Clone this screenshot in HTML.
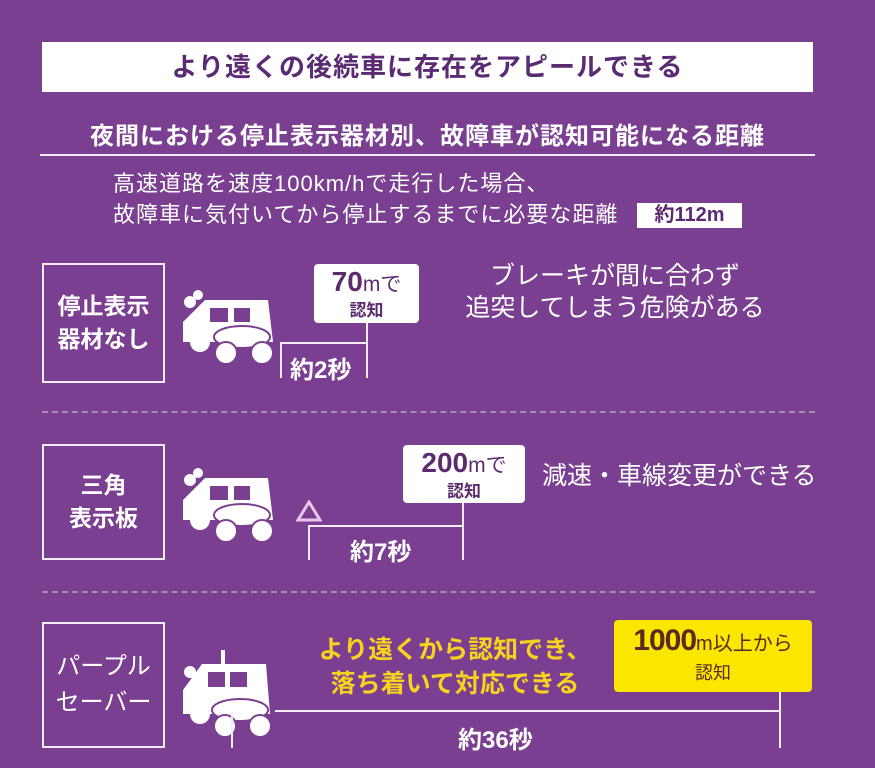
<!DOCTYPE html>
<html><head><meta charset="utf-8"><style>
body{margin:0;width:875px;height:768px;background:#7b3f92;overflow:hidden;position:relative;font-family:"Liberation Sans","Noto Sans CJK JP",sans-serif;color:#fff}
.a{position:absolute;white-space:nowrap}
.box{position:absolute;border:2px solid #f3ecf5;box-sizing:border-box;display:flex;align-items:center;justify-content:center;text-align:center;font-size:23px;line-height:33px;font-weight:bold}
.ln{position:absolute;background:#f3ecf5}
.lbl{position:absolute;background:#fff;border-radius:4px;color:#5b2b6e;text-align:center;font-weight:bold}
.dash{position:absolute;left:42px;width:773px;border-top:2px dashed #a98bb6}
</style></head><body>
<div class="a" style="left:42px;top:42px;width:771px;height:50px;background:#fff;color:#5a2a72;font-size:26px;letter-spacing:1px;font-weight:bold;text-align:center;line-height:50px">より遠くの後続車に存在をアピールできる</div>
<div class="a" style="left:40px;top:116px;width:775px;text-align:center;font-size:24px;letter-spacing:1px;font-weight:bold">夜間における停止表示器材別、故障車が認知可能になる距離</div>
<div class="ln" style="left:40px;top:154px;width:775px;height:2px"></div>
<div class="a" style="left:113px;top:168px;font-size:22px;line-height:31px;letter-spacing:1px">高速道路を速度100km/hで走行した場合、<br>故障車に気付いてから停止するまでに必要な距離</div>
<div class="a" style="left:637px;top:203px;width:105px;height:25px;background:#fff;color:#5a2a72;font-size:20px;font-weight:bold;text-align:center;line-height:25px">約112m</div>

<div class="box" style="left:42px;top:263px;width:123px;height:120px">停止表示<br>器材なし</div>
<svg class="a" style="left:180px;top:290px" width="100" height="78" viewBox="0 0 100 78"><circle cx="10" cy="12" r="6" fill="#fff"/><circle cx="18" cy="5" r="5" fill="#fff"/><path d="M3 32 L25 10 L88 10 L93 52 L3 52 Z" fill="#fff"/><rect x="30" y="18" width="18" height="14" fill="#7b3f92"/><rect x="54" y="18" width="16" height="14" fill="#7b3f92"/><circle cx="20" cy="52" r="10" fill="#fff"/><ellipse cx="62" cy="47" rx="28" ry="11" fill="#fff" stroke="#7b3f92" stroke-width="2"/><circle cx="46" cy="63" r="11" fill="#fff" stroke="#7b3f92" stroke-width="2"/><circle cx="82" cy="63" r="11" fill="#fff" stroke="#7b3f92" stroke-width="2"/></svg>
<div class="lbl" style="left:314px;top:264px;width:105px;height:59px"><div style="font-size:28px;line-height:30px;margin-top:3px">70<span style="font-size:21px;font-weight:normal">mで</span></div><div style="font-size:17px;line-height:22px">認知</div></div>
<div class="ln" style="left:366px;top:323px;width:2px;height:55px"></div>
<div class="ln" style="left:280px;top:342px;width:87px;height:2px"></div>
<div class="ln" style="left:280px;top:342px;width:2px;height:36px"></div>
<div class="a" style="left:290px;top:350px;font-size:24px;font-weight:bold">約2秒</div>
<div class="a" style="left:455px;top:260px;width:320px;text-align:center;font-size:25px;line-height:32px">ブレーキが間に合わず<br>追突してしまう危険がある</div>
<div class="dash" style="top:411px"></div>

<div class="box" style="left:42px;top:444px;width:123px;height:116px">三角<br>表示板</div>
<svg class="a" style="left:180px;top:468px" width="100" height="78" viewBox="0 0 100 78"><circle cx="10" cy="12" r="6" fill="#fff"/><circle cx="18" cy="5" r="5" fill="#fff"/><path d="M3 32 L25 10 L88 10 L93 52 L3 52 Z" fill="#fff"/><rect x="30" y="18" width="18" height="14" fill="#7b3f92"/><rect x="54" y="18" width="16" height="14" fill="#7b3f92"/><circle cx="20" cy="52" r="10" fill="#fff"/><ellipse cx="62" cy="47" rx="28" ry="11" fill="#fff" stroke="#7b3f92" stroke-width="2"/><circle cx="46" cy="63" r="11" fill="#fff" stroke="#7b3f92" stroke-width="2"/><circle cx="82" cy="63" r="11" fill="#fff" stroke="#7b3f92" stroke-width="2"/></svg>
<svg class="a" style="left:296px;top:500px" width="26" height="22"><polygon points="13,2 24,20 2,20" fill="none" stroke="#e8c8e8" stroke-width="3"/></svg>
<div class="lbl" style="left:403px;top:445px;width:122px;height:58px"><div style="font-size:28px;line-height:30px;margin-top:3px">200<span style="font-size:21px;font-weight:normal">mで</span></div><div style="font-size:17px;line-height:22px">認知</div></div>
<div class="ln" style="left:462px;top:503px;width:2px;height:57px"></div>
<div class="ln" style="left:308px;top:525px;width:156px;height:2px"></div>
<div class="ln" style="left:308px;top:525px;width:2px;height:35px"></div>
<div class="a" style="left:350px;top:532px;font-size:24px;font-weight:bold">約7秒</div>
<div class="a" style="left:542px;top:456px;font-size:25px">減速・車線変更ができる</div>
<div class="dash" style="top:591px"></div>

<div class="box" style="left:42px;top:622px;width:123px;height:126px;font-weight:normal;font-size:24px;line-height:36px">パープル<br>セーバー</div>
<svg class="a" style="left:180px;top:650px" width="100" height="92" viewBox="0 0 100 92"><rect x="41" y="0" width="4" height="14" fill="#fff"/><circle cx="10" cy="22" r="6" fill="#fff"/><path d="M3 40 L22 14 L86 14 L90 64 L3 64 Z" fill="#fff"/><rect x="28" y="22" width="17" height="15" fill="#7b3f92"/><rect x="50" y="22" width="17" height="15" fill="#7b3f92"/><circle cx="20" cy="64" r="10" fill="#fff"/><ellipse cx="60" cy="60" rx="28" ry="11" fill="#fff" stroke="#7b3f92" stroke-width="2"/><circle cx="45" cy="76" r="11" fill="#fff" stroke="#7b3f92" stroke-width="2"/><circle cx="80" cy="76" r="11" fill="#fff" stroke="#7b3f92" stroke-width="2"/></svg>
<div class="a" style="left:315px;top:633px;width:280px;text-align:center;font-size:25px;line-height:34px;font-weight:bold;color:#f7d21e">より遠くから認知でき、<br>落ち着いて対応できる</div>
<div class="a" style="left:614px;top:620px;width:198px;height:72px;background:#fbe600;border-radius:4px;color:#5a2a22;text-align:center"><div style="font-size:30px;line-height:34px;margin-top:4px;font-weight:bold;letter-spacing:-1px">1000<span style="font-size:20px;font-weight:normal;letter-spacing:0">m以上から</span></div><div style="font-size:18px;line-height:24px">認知</div></div>
<div class="ln" style="left:275px;top:710px;width:506px;height:2px"></div>
<div class="ln" style="left:779px;top:692px;width:2px;height:56px"></div>
<div class="ln" style="left:231px;top:712px;width:2px;height:36px"></div>
<div class="a" style="left:458px;top:720px;font-size:24px;font-weight:bold">約36秒</div>
</body></html>
